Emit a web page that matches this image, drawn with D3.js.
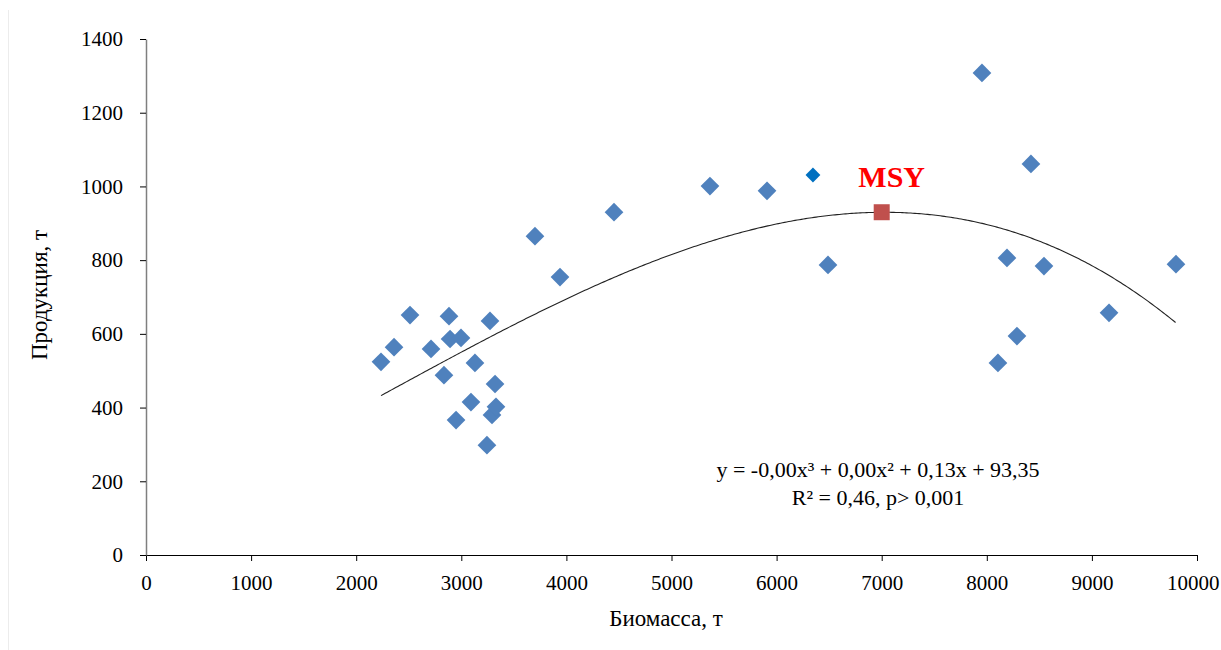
<!DOCTYPE html>
<html>
<head>
<meta charset="utf-8">
<script src="https://cdn.jsdelivr.net/npm/d3@7"></script>
<style>
  html, body { margin: 0; padding: 0; background: #fff; }
  svg { display: block; }
  text { font-family: "Liberation Serif", "Times New Roman", serif; fill: #000; }
</style>
</head>
<body>
<svg id="chart" width="1221" height="650"></svg>
<script>
// Biomass (t) and production (t) by year
const biomass = [2236, 2360, 2512, 2712, 2835, 2883, 2893, 2997, 2950, 3092, 3130, 3244, 3273, 3292, 3321, 3330,
                 3701, 3939, 4453, 5366, 5909, 6489, 7954, 8420, 8192, 8106, 8287, 8544, 9163, 9800];
const production = [524, 564, 651, 559, 488, 648, 586, 589, 366, 415, 521, 298, 635, 380, 464, 402,
                    865, 754, 930, 1001, 988, 787, 1308, 1061, 806, 521, 594, 784, 657, 789];
// highlighted observation
const highlightPoint = [6346, 1031];
// maximum sustainable yield
const msyPoint = [7000, 930];

const xTicks = [0, 1000, 2000, 3000, 4000, 5000, 6000, 7000, 8000, 9000, 10000];
const yTicks = [0, 200, 400, 600, 800, 1000, 1200, 1400];

const equationLines = ["y = -0,00x³ + 0,00x² + 0,13x + 93,35", "R² = 0,46, p> 0,001"];

const svg = d3.select("#chart");

// faint page edge
svg.append("line").attr("x1", 8.5).attr("x2", 8.5).attr("y1", 10).attr("y2", 650)
  .attr("stroke", "#ececec").attr("stroke-width", 1);

const x = d3.scaleLinear().domain([0, 10000]).range([146, 1197]);
const y = d3.scaleLinear().domain([0, 1400]).range([555, 39]);

// axes
const xAxis = svg.append("g").attr("transform", `translate(0,${y(0)})`)
  .call(d3.axisBottom(x).tickValues(xTicks).tickSize(6).tickSizeOuter(0).tickPadding(14).tickFormat(d3.format("d")));
xAxis.select(".domain").attr("stroke", "#000").attr("stroke-width", 1.2);
xAxis.selectAll(".tick line").attr("stroke", "#000");
xAxis.selectAll("text").style("font-size", "21px").attr("font-family", "Liberation Serif");
// keep the last label inside the page edge
xAxis.selectAll(".tick").filter(d => d === 10000).select("text")
  .attr("text-anchor", "end").attr("x", 1219 - x(10000));

const yAxis = svg.append("g").attr("transform", `translate(${x(0)},0)`)
  .call(d3.axisLeft(y).tickValues(yTicks).tickSize(6).tickSizeOuter(0).tickPadding(17).tickFormat(d3.format("d")));
yAxis.select(".domain").attr("stroke", "#7f7f7f").attr("stroke-width", 1.5);
yAxis.selectAll(".tick line").attr("stroke", "#000");
yAxis.selectAll("text").style("font-size", "21px").attr("font-family", "Liberation Serif");

// axis titles
svg.append("text").attr("x", 666).attr("y", 626).attr("text-anchor", "middle")
  .style("font-size", "23px").text("Биомасса, т");
svg.append("text").attr("transform", "translate(47,295) rotate(-90)").attr("text-anchor", "middle")
  .style("font-size", "23px").text("Продукция, т");

// cubic least-squares trend of production on biomass
function polyFit(xs, ys, deg) {
  const n = deg + 1;
  const A = Array.from({length: n}, () => new Array(n + 1).fill(0));
  const s = 1000; // scale x for conditioning
  xs.forEach((xv, i) => {
    const t = xv / s;
    for (let r = 0; r < n; r++) {
      for (let c = 0; c < n; c++) A[r][c] += Math.pow(t, r + c);
      A[r][n] += ys[i] * Math.pow(t, r);
    }
  });
  for (let i = 0; i < n; i++) {
    let p = i;
    for (let k = i + 1; k < n; k++) if (Math.abs(A[k][i]) > Math.abs(A[p][i])) p = k;
    [A[i], A[p]] = [A[p], A[i]];
    for (let k = i + 1; k < n; k++) {
      const f = A[k][i] / A[i][i];
      for (let c = i; c <= n; c++) A[k][c] -= f * A[i][c];
    }
  }
  const coef = new Array(n).fill(0);
  for (let i = n - 1; i >= 0; i--) {
    let v = A[i][n];
    for (let c = i + 1; c < n; c++) v -= A[i][c] * coef[c];
    coef[i] = v / A[i][i];
  }
  return xv => coef.reduce((acc, cf, k) => acc + cf * Math.pow(xv / s, k), 0);
}
const allX = biomass.concat([highlightPoint[0]]);
const allY = production.concat([highlightPoint[1]]);
const trend = polyFit(allX, allY, 3);
const xMin = d3.min(allX), xMax = d3.max(allX);
const trendPts = d3.range(xMin, xMax + 1, 20).map(v => [v, trend(v)]);
svg.append("path").datum(trendPts)
  .attr("fill", "none").attr("stroke", "#222").attr("stroke-width", 1.1)
  .attr("d", d3.line().x(d => x(d[0])).y(d => y(d[1])));

// data points (diamonds)
const diamond = d3.symbol().type(d3.symbolSquare).size(175);
svg.append("g").selectAll("path").data(d3.zip(biomass, production)).join("path")
  .attr("d", diamond)
  .attr("transform", d => `translate(${x(d[0])},${y(d[1])}) rotate(45)`)
  .attr("fill", "#4F81BD");
svg.append("path").attr("d", d3.symbol().type(d3.symbolSquare).size(110))
  .attr("transform", `translate(${x(highlightPoint[0])},${y(highlightPoint[1])}) rotate(45)`)
  .attr("fill", "#0070C0");

// MSY marker
svg.append("path").attr("d", d3.symbol().type(d3.symbolSquare).size(256))
  .attr("transform", `translate(${x(msyPoint[0])},${y(msyPoint[1])})`)
  .attr("fill", "#C0504D");
svg.append("text").attr("x", x(msyPoint[0]) + 10).attr("y", y(msyPoint[1]) - 25)
  .attr("text-anchor", "middle").style("font-size", "30px").style("font-weight", "bold")
  .style("fill", "#FF0000").text("MSY");

// regression equation
svg.append("g").selectAll("text").data(equationLines).join("text")
  .attr("x", 878).attr("y", (d, i) => 477 + i * 28).attr("text-anchor", "middle")
  .style("font-size", "22px").text(d => d);
</script>
</body>
</html>
